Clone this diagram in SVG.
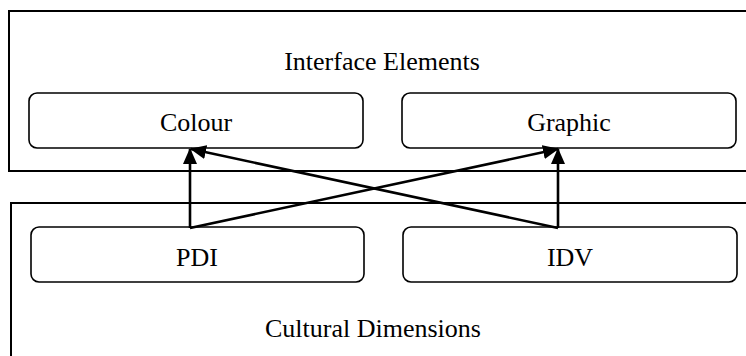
<svg xmlns="http://www.w3.org/2000/svg" width="746" height="356" viewBox="0 0 746 356">
<style>
.frame{fill:none;stroke:#000;stroke-width:2}
.node{fill:#fff;stroke:#000;stroke-width:1.6}
.t{font-family:'Times New Roman','Liberation Serif',Times,'DejaVu Serif',serif;font-size:26px;fill:#000;text-anchor:middle}
.c{stroke:#000;stroke-width:2.6;fill:none;marker-end:url(#ah)}
</style>
<defs>
<marker id="ah" markerUnits="userSpaceOnUse" markerWidth="16" markerHeight="14" refX="15" refY="7" orient="auto" viewBox="0 0 16 14">
<path d="M0,0 L16,7 L0,14 Z" fill="#000"/>
</marker>
</defs>
<g id="interface-elements">
<rect class="frame" x="9" y="11" width="745" height="160"/>
<text class="t" x="382" y="70">Interface Elements</text>
</g>
<g id="cultural-dimensions">
<rect class="frame" x="11" y="203" width="745" height="160"/>
<text class="t" x="373" y="337">Cultural Dimensions</text>
</g>
<g id="colour">
<rect class="node" x="29" y="93" width="334" height="55" rx="8"/>
<text class="t" x="196" y="131">Colour</text>
</g>
<g id="graphic">
<rect class="node" x="402" y="93" width="334" height="55" rx="8"/>
<text class="t" x="569" y="131">Graphic</text>
</g>
<g id="pdi">
<rect class="node" x="31" y="227" width="333" height="55" rx="8"/>
<text class="t" x="197" y="266">PDI</text>
</g>
<g id="idv">
<rect class="node" x="403" y="227" width="334" height="55" rx="8"/>
<text class="t" x="570" y="266">IDV</text>
</g>
<g id="connectors">
<line class="c" x1="190" y1="228" x2="190" y2="149"/>
<line class="c" x1="190" y1="228" x2="558" y2="149"/>
<line class="c" x1="558" y1="228" x2="558" y2="149"/>
<line class="c" x1="558" y1="228" x2="191" y2="149"/>
</g>
</svg>
